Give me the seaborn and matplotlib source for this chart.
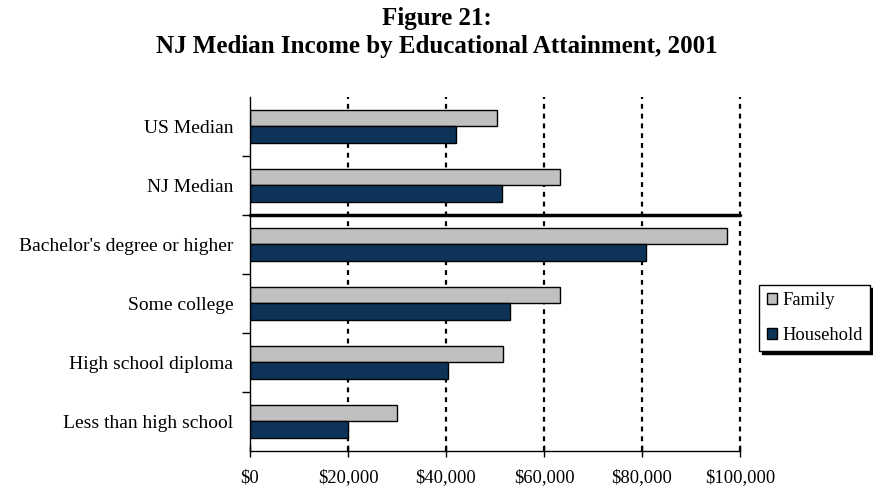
import matplotlib
matplotlib.use("Agg")
import matplotlib.pyplot as plt
from matplotlib.ticker import FuncFormatter, FixedLocator
import seaborn as sns
import pandas as pd

categories = ["US Median", "NJ Median", "Bachelor's degree or higher",
              "Some college", "High school diploma", "Less than high school"]
family = [50500, 63300, 97400, 63300, 51600, 29900]
household = [42000, 51400, 80900, 53000, 40500, 20000]
series = ["Family", "Household"]
colors = {"Family": "#C0C0C0", "Household": "#003366"}
x_ticks = [0, 20000, 40000, 60000, 80000, 100000]

df = pd.DataFrame({
    "Category": categories * 2,
    "Series": ["Family"] * len(categories) + ["Household"] * len(categories),
    "Income": family + household,
})

sns.set_theme(style="white")
plt.rcParams["font.family"] = ["Liberation Serif", "DejaVu Serif"]
plt.rcParams["text.color"] = "black"
plt.rcParams["xtick.color"] = "black"
plt.rcParams["ytick.color"] = "black"
plt.rcParams["axes.labelcolor"] = "black"

fig = plt.figure(figsize=(8.73, 4.87), dpi=100)
ax = fig.add_axes([0.2864, 0.074, 0.5613, 0.727])

sns.barplot(data=df, y="Category", x="Income", hue="Series",
            order=categories, hue_order=series, palette=colors,
            orient="h", width=0.57, edgecolor="black", linewidth=1.0,
            errorbar=None, ax=ax)

ax.set_xlim(0, 100000)
ax.set_ylim(len(categories) - 0.5, -0.5)
ax.set_xlabel("")
ax.set_ylabel("")

# dotted vertical gridlines
for v in x_ticks[1:]:
    ax.axvline(v, color="black", linewidth=1.6, linestyle=(0, (2.2, 2.2)),
               zorder=0, clip_on=False)

# divider between state/national medians and attainment groups
ax.axhline(1.5, color="black", linewidth=2.5, zorder=3, clip_on=False)

for side in ["top", "right"]:
    ax.spines[side].set_visible(False)
ax.spines["left"].set_color("black")
ax.spines["left"].set_linewidth(1.0)
ax.spines["bottom"].set_color("black")
ax.spines["bottom"].set_linewidth(1.0)

ax.xaxis.set_major_locator(FixedLocator(x_ticks))
ax.xaxis.set_major_formatter(FuncFormatter(lambda v, p: f"${int(v):,}"))
ax.tick_params(axis="x", direction="inout", length=8, width=1.0,
               colors="black", labelsize=13.3, pad=9, bottom=True)

ax.set_yticks(range(len(categories)))
ax.set_yticklabels(categories)
ax.tick_params(axis="y", which="major", length=0, labelsize=14, pad=12,
               colors="black", left=False)
ax.set_yticks([i + 0.5 for i in range(len(categories) - 1)], minor=True)
ax.tick_params(axis="y", which="minor", direction="out", length=6, width=1.0,
               color="black", left=True)

leg = ax.legend(loc="upper left", bbox_to_anchor=(1.039, 0.469),
                frameon=True, fancybox=False, shadow={"color": "black", "alpha": 1},
                edgecolor="black", fontsize=13.3, handlelength=0.55,
                handleheight=0.55, handletextpad=0.3, labelspacing=0.95,
                borderpad=0.4, borderaxespad=0)
leg.get_frame().set_linewidth(1.0)
for t in leg.get_texts():
    t.set_color("black")
for h in leg.legend_handles:
    h.set_edgecolor("black")
    h.set_linewidth(1.0)

fig.text(0.5, 0.985, "Figure 21:\nNJ Median Income by Educational Attainment, 2001",
         ha="center", va="top", fontsize=18, fontweight="bold",
         linespacing=1.25, color="black")

fig.savefig("out.png", dpi=100, facecolor="white")
